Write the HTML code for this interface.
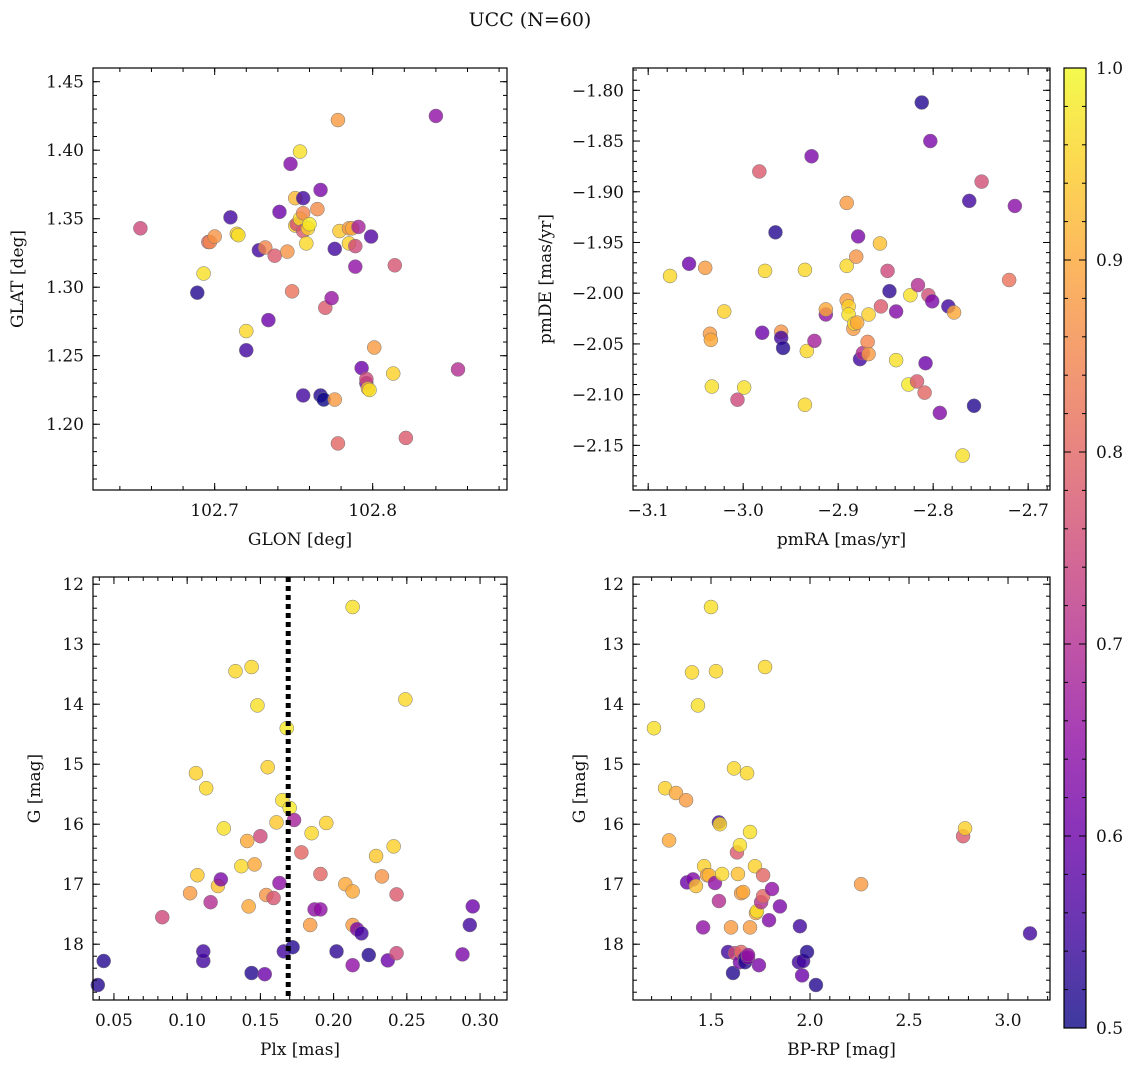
<!DOCTYPE html>
<html><head><meta charset="utf-8">
<style>
body{margin:0;background:#fff;}
svg text{font-family:"DejaVu Serif","Liberation Serif",serif;fill:#111;}
</style></head>
<body>
<svg id="fig" width="1136" height="1067" xmlns="http://www.w3.org/2000/svg">
<text x="530" y="26" font-size="19" text-anchor="middle">UCC (N=60)</text>
</svg>
<script>
// Panel 1: GLON vs GLAT
const p1x=[102.653,102.689,102.693,102.696,102.697,102.700,102.710,102.714,102.715,102.720,102.720,102.728,102.732,102.734,102.738,102.741,102.746,102.748,102.749,102.751,102.751,102.752,102.754,102.754,102.756,102.756,102.756,102.756,102.758,102.759,102.760,102.765,102.767,102.767,102.769,102.770,102.774,102.776,102.776,102.778,102.778,102.779,102.785,102.785,102.787,102.789,102.789,102.791,102.793,102.796,102.796,102.797,102.799,102.798,102.801,102.813,102.814,102.821,102.840,102.854];
const p1y=[1.343,1.296,1.310,1.333,1.333,1.337,1.351,1.339,1.338,1.268,1.254,1.327,1.329,1.276,1.323,1.355,1.326,1.390,1.297,1.365,1.345,1.346,1.350,1.399,1.221,1.365,1.354,1.341,1.332,1.343,1.346,1.357,1.371,1.221,1.218,1.285,1.292,1.218,1.328,1.422,1.186,1.341,1.332,1.343,1.343,1.315,1.330,1.344,1.241,1.230,1.233,1.226,1.337,1.225,1.256,1.237,1.316,1.190,1.425,1.240];
const p1c=[0.75,0.52,0.97,0.8,0.85,0.87,0.55,0.95,0.97,0.96,0.55,0.55,0.85,0.6,0.78,0.6,0.87,0.63,0.82,0.92,0.95,0.76,0.97,0.97,0.55,0.55,0.85,0.78,0.96,0.95,0.98,0.86,0.62,0.52,0.5,0.78,0.66,0.88,0.55,0.88,0.8,0.94,0.95,0.88,0.9,0.65,0.75,0.68,0.6,0.62,0.75,0.92,0.57,0.97,0.88,0.95,0.77,0.78,0.65,0.7];
// Panel 2: pmRA vs pmDE
const p2x=[-3.077,-3.057,-3.040,-3.033,-3.035,-3.034,-3.020,-3.006,-2.999,-2.983,-2.980,-2.977,-2.966,-2.960,-2.960,-2.958,-2.935,-2.935,-2.933,-2.928,-2.925,-2.913,-2.913,-2.891,-2.891,-2.891,-2.889,-2.889,-2.884,-2.883,-2.880,-2.881,-2.879,-2.877,-2.874,-2.869,-2.868,-2.868,-2.856,-2.855,-2.848,-2.846,-2.839,-2.839,-2.826,-2.824,-2.817,-2.816,-2.812,-2.808,-2.809,-2.805,-2.803,-2.801,-2.793,-2.784,-2.778,-2.769,-2.762,-2.757,-2.749,-2.720,-2.714];
const p2y=[-1.983,-1.971,-1.975,-2.092,-2.040,-2.046,-2.018,-2.105,-2.093,-1.880,-2.039,-1.978,-1.940,-2.038,-2.044,-2.054,-2.110,-1.977,-2.057,-1.865,-2.047,-2.021,-2.016,-1.911,-1.973,-2.007,-2.013,-2.021,-2.035,-2.030,-2.029,-1.964,-1.944,-2.065,-2.059,-2.048,-2.021,-2.060,-1.951,-2.013,-1.978,-1.998,-2.018,-2.066,-2.090,-2.002,-2.087,-1.992,-1.812,-2.069,-2.098,-2.002,-1.850,-2.008,-2.118,-2.013,-2.019,-2.160,-1.909,-2.111,-1.890,-1.987,-1.914];
const p2c=[0.96,0.6,0.88,0.97,0.88,0.9,0.95,0.75,0.97,0.78,0.6,0.96,0.52,0.87,0.55,0.52,0.96,0.96,0.96,0.62,0.68,0.65,0.9,0.88,0.96,0.88,0.95,0.97,0.88,0.96,0.9,0.87,0.62,0.55,0.7,0.85,0.95,0.88,0.93,0.78,0.75,0.53,0.63,0.97,0.98,0.97,0.78,0.7,0.52,0.6,0.8,0.76,0.62,0.62,0.63,0.55,0.9,0.97,0.55,0.52,0.76,0.82,0.64];
// Panel 3: Plx vs G
const p3x=[0.039,0.043,0.083,0.102,0.106,0.107,0.111,0.111,0.113,0.116,0.121,0.123,0.125,0.133,0.137,0.141,0.142,0.144,0.144,0.146,0.148,0.150,0.153,0.154,0.155,0.159,0.161,0.163,0.165,0.166,0.168,0.170,0.172,0.173,0.178,0.184,0.185,0.187,0.191,0.191,0.195,0.202,0.208,0.213,0.213,0.213,0.213,0.216,0.219,0.224,0.229,0.233,0.237,0.241,0.243,0.243,0.249,0.288,0.293,0.295];
const p3y=[18.68,18.28,17.55,17.15,15.15,16.85,18.28,18.12,15.40,17.30,17.03,16.92,16.07,13.45,16.70,16.28,17.37,18.48,13.38,16.67,14.02,16.20,18.50,17.18,15.05,17.23,15.97,16.98,15.60,18.12,14.40,15.73,18.05,15.93,16.47,17.68,16.15,17.42,17.42,16.83,15.98,18.12,17.00,17.12,17.68,12.38,18.35,17.75,17.82,18.18,16.53,16.87,18.27,16.37,18.15,17.17,13.92,18.17,17.68,17.37];
const p3c=[0.52,0.52,0.75,0.88,0.95,0.94,0.55,0.55,0.96,0.7,0.93,0.62,0.97,0.96,0.96,0.9,0.9,0.52,0.96,0.9,0.97,0.75,0.6,0.87,0.95,0.77,0.94,0.65,0.97,0.55,0.98,0.98,0.52,0.68,0.8,0.88,0.96,0.65,0.65,0.8,0.95,0.53,0.9,0.9,0.88,0.97,0.65,0.62,0.55,0.52,0.94,0.87,0.6,0.95,0.75,0.78,0.96,0.62,0.55,0.6];
const plxRef=[0.169];
// Panel 4: BP-RP vs G
const p4x=[1.212,1.268,1.288,1.323,1.374,1.379,1.404,1.409,1.424,1.434,1.460,1.465,1.480,1.490,1.500,1.520,1.525,1.540,1.540,1.545,1.556,1.586,1.601,1.611,1.616,1.621,1.631,1.636,1.646,1.646,1.652,1.652,1.662,1.672,1.672,1.682,1.687,1.687,1.697,1.697,1.722,1.727,1.732,1.742,1.753,1.763,1.763,1.773,1.793,1.808,1.848,1.944,1.949,1.960,1.965,1.985,2.030,2.258,2.773,2.783,3.111];
const p4y=[14.40,15.40,16.27,15.48,15.60,16.97,13.47,16.92,17.03,14.02,17.72,16.70,16.85,16.85,12.38,16.98,13.45,15.97,17.28,16.00,16.83,18.13,17.72,18.48,15.07,18.15,16.47,16.83,18.30,16.35,17.15,18.13,17.13,18.23,18.30,15.15,18.22,18.18,17.72,16.13,16.70,17.48,17.45,18.35,17.30,17.20,16.85,13.38,17.60,17.08,17.37,18.30,17.70,18.52,18.28,18.13,18.68,17.00,16.20,16.07,17.82];
const p4c=[0.97,0.95,0.9,0.9,0.88,0.6,0.96,0.63,0.93,0.97,0.65,0.95,0.88,0.92,0.97,0.65,0.96,0.55,0.7,0.96,0.96,0.55,0.88,0.52,0.96,0.75,0.78,0.93,0.62,0.97,0.88,0.8,0.9,0.55,0.52,0.96,0.63,0.66,0.88,0.97,0.95,0.9,0.97,0.62,0.7,0.8,0.8,0.96,0.63,0.65,0.62,0.55,0.55,0.6,0.55,0.52,0.52,0.88,0.78,0.95,0.55];
const cbTicks=[0.5,0.6,0.7,0.8,0.9,1.0];

const NS="http://www.w3.org/2000/svg";
const fig=document.getElementById('fig');
function mk(tag,attrs,parent){const e=document.createElementNS(NS,tag);for(const k in attrs)e.setAttribute(k,attrs[k]);(parent||fig).appendChild(e);return e;}
const stops=[[13,8,135],[65,4,157],[106,0,168],[143,13,164],[177,42,144],[204,71,120],[225,100,98],[242,132,75],[252,166,54],[252,206,37],[240,249,33]];
function plasma(t){t=Math.max(0,Math.min(1,t));const f=t*10,i=Math.min(9,Math.floor(f)),r=f-i;const a=stops[i],b=stops[i+1];return 'rgb('+a.map((v,k)=>Math.round(v+(b[k]-v)*r)).join(',')+')';}
function cmap(v){return plasma((v-0.5)/0.5);}

function panel(o){
  const g=mk('g',{});
  
  
  const sx=v=>o.L+(v-o.x0)/(o.x1-o.x0)*(o.R-o.L);
  const sy=v=>o.inv? o.T+(v-o.y0)/(o.y1-o.y0)*(o.B-o.T) : o.B-(v-o.y0)/(o.y1-o.y0)*(o.B-o.T);
  const pg=mk('g',{},g);
  
  
  for(let i=0;i<o.xs.length;i++){
    const c=mk('circle',{cx:sx(o.xs[i]),cy:sy(o.ys[i]),r:7,fill:cmap(o.cs[i]),'fill-opacity':0.8,stroke:'#777','stroke-width':0.5},pg);
    
    
  }
  if(o.vline){for(const v of o.vline){const l=mk('line',{x1:sx(v),x2:sx(v),y1:o.T,y2:o.B,stroke:'#000','stroke-width':5,'stroke-dasharray':'5,4'},g);
    
    }}
  const tg=mk('g',{stroke:'#000','stroke-width':1},g);
  function ticks(a,b,step,len,axis,label,dec){
    const n0=Math.ceil(a/step-1e-6),n1=Math.floor(b/step+1e-6);
    for(let n=n0;n<=n1;n++){const v=n*step;
      if(axis==='x'){const x=sx(v);mk('line',{x1:x,x2:x,y1:o.B,y2:o.B-len},tg);mk('line',{x1:x,x2:x,y1:o.T,y2:o.T+len},tg);
        if(label){const t=mk('text',{x:x,y:o.B+26,'font-size':17,'text-anchor':'middle'},g);t.textContent=v.toFixed(dec).replace('-','\u2212');
          
          }}
      else{const y=sy(v);mk('line',{x1:o.L,x2:o.L+len,y1:y,y2:y},tg);mk('line',{x1:o.R,x2:o.R-len,y1:y,y2:y},tg);
        if(label){const t=mk('text',{x:o.L-9,y:y+6,'font-size':17,'text-anchor':'end'},g);t.textContent=v.toFixed(dec).replace('-','\u2212');
          
          }}
    }
  }
  const xa=Math.min(o.x0,o.x1),xb=Math.max(o.x0,o.x1),ya=Math.min(o.y0,o.y1),yb=Math.max(o.y0,o.y1);
  ticks(xa,xb,o.xmin,4,'x',false);ticks(xa,xb,o.xmaj,7,'x',true,o.xd);
  ticks(ya,yb,o.ymin,4,'y',false);ticks(ya,yb,o.ymaj,7,'y',true,o.yd);
  const fr=mk('rect',{x:o.L,y:o.T,width:o.R-o.L,height:o.B-o.T,fill:'none',stroke:'#000','stroke-width':1.2},g);
  
  
  const xl=mk('text',{x:(o.L+o.R)/2,y:o.B+55,'font-size':17,'text-anchor':'middle'},g);xl.textContent=o.xlab;
  
  
  const yx=o.ylx,yy=(o.T+o.B)/2;
  const yl=mk('text',{x:yx,y:yy,'font-size':17,'text-anchor':'middle',transform:'rotate(-90 '+yx+' '+yy+')'},g);yl.textContent=o.ylab;
  
  
}
panel({name:'glon-glat-panel',L:93,R:507,T:68,B:490,x0:102.623,x1:102.885,y0:1.152,y1:1.460,xmaj:0.1,xmin:0.02,ymaj:0.05,ymin:0.01,xd:1,yd:2,xs:p1x,ys:p1y,cs:p1c,xlab:'GLON [deg]',ylab:'GLAT [deg]',ylx:23});
panel({name:'pm-panel',L:633,R:1050,T:68,B:490,x0:-3.116,x1:-2.677,y0:-2.194,y1:-1.778,xmaj:0.1,xmin:0.02,ymaj:0.05,ymin:0.01,xd:1,yd:2,xs:p2x,ys:p2y,cs:p2c,xlab:'pmRA [mas/yr]',ylab:'pmDE [mas/yr]',ylx:551});
panel({name:'plx-g-panel',L:93,R:507,T:577,B:1000,x0:0.0357,x1:0.3184,y0:11.88,y1:18.93,inv:true,xmaj:0.05,xmin:0.01,ymaj:1,ymin:0.2,xd:2,yd:0,xs:p3x,ys:p3y,cs:p3c,xlab:'Plx [mas]',ylab:'G [mag]',ylx:40,vline:plxRef});
panel({name:'cmd-panel',L:633,R:1050,T:577,B:1000,x0:1.106,x1:3.212,y0:11.88,y1:18.93,inv:true,xmaj:0.5,xmin:0.1,ymaj:1,ymin:0.2,xd:1,yd:0,xs:p4x,ys:p4y,cs:p4c,xlab:'BP-RP [mag]',ylab:'G [mag]',ylx:585});

const cb=mk('g',{});


const defs=mk('defs',{},cb);
const lg=mk('linearGradient',{id:'pl',x1:0,y1:1,x2:0,y2:0},defs);
for(let i=0;i<=10;i++)mk('stop',{offset:(i*10)+'%','stop-color':plasma(i/10),'stop-opacity':0.8},lg);
const cT=68,cB=1028,cL=1064,cR=1086;
mk('rect',{x:cL,y:cT,width:cR-cL,height:cB-cT,fill:'url(#pl)',stroke:'#000','stroke-width':1.2},cb);
const cy=v=>cB-(v-0.5)/0.5*(cB-cT);
for(let v=0.5;v<=1.0001;v+=0.02){mk('line',{x1:cR,x2:cR-4,y1:cy(v),y2:cy(v),stroke:'#000'},cb);mk('line',{x1:cL,x2:cL+4,y1:cy(v),y2:cy(v),stroke:'#000'},cb);}
for(const v of cbTicks){mk('line',{x1:cR,x2:cR-7,y1:cy(v),y2:cy(v),stroke:'#000'},cb);mk('line',{x1:cL,x2:cL+7,y1:cy(v),y2:cy(v),stroke:'#000'},cb);
  const t=mk('text',{x:cR+10,y:cy(v)+6,'font-size':17},cb);t.textContent=v.toFixed(1);
  
  }
</script>
</body></html>
